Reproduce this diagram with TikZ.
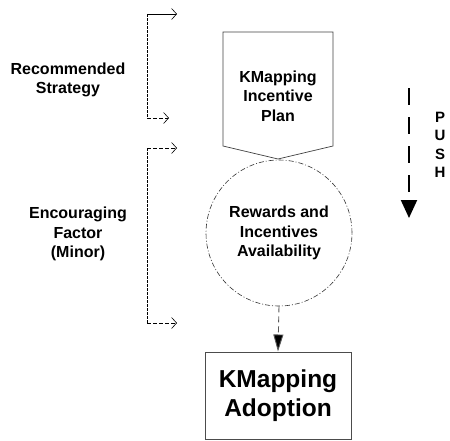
\documentclass[tikz,border=0pt]{standalone}
\usepackage{fontspec}
\setmainfont{Liberation Sans}
\usetikzlibrary{arrows.meta,positioning,calc}
\tikzset{
  lbl/.style={font=\bfseries\fontsize{16}{19.5}\selectfont, align=center},
  rewardcircle/.style={circle, draw=black!80, line width=0.6pt,
    dash pattern=on 5pt off 2pt on 1pt off 2pt, minimum size=146pt,
    inner sep=0pt, lbl},
  adoptbox/.style={draw=black!70, line width=1pt, minimum width=146pt,
    minimum height=87pt, inner sep=0pt, align=center,
    font=\bfseries\fontsize{24.5}{29}\selectfont},
  brack/.style={line width=0.6pt, dash pattern=on 3pt off 1pt},
  brackarr/.style={line width=0.6pt, dash pattern=on 4pt off 2pt,
    -{Straight Barb[length=5pt,width=11pt]}},
  pusharr/.style={line width=2pt, dash pattern=on 17pt off 12pt,
    -{Triangle[length=18pt,width=16pt]}},
}
\begin{document}
\begin{tikzpicture}[x=1pt,y=-1pt]
  \useasboundingbox (0,0) rectangle (450,440);
  % pentagon (off-page connector)
  \coordinate (pnw) at (223,32);
  \coordinate (pne) at (333,32);
  \coordinate (pse) at (333,146);
  \coordinate (ptip) at (278,159);
  \coordinate (psw) at (223,146);
  \draw[draw=black!75, line width=0.7pt] (pnw) -- (pne) -- (pse) -- (ptip) -- (psw) -- cycle;
  \node[lbl] (plan) at (278,96) {KMapping\\Incentive\\Plan};
  % circle and box
  \node[rewardcircle] (reward) at (279,233) {Rewards and\\Incentives\\Availability};
  \node[adoptbox] (adopt) at (278,395.5) {KMapping\\Adoption};
  \draw[line width=0.9pt, draw=black!65, dash pattern=on 6pt off 4pt,
    -{Triangle[length=17pt,width=10pt,fill=black]}] (reward.south) -- (adopt.north);
  % side labels
  \node[lbl] (strategy) at (68,80) {Recommended\\Strategy};
  \node[lbl] (factor) at (78,234) {Encouraging\\Factor\\(Minor)};
  % brackets
  \coordinate (rsTop) at (147,14);
  \coordinate (rsTopEnd) at (177,14);
  \coordinate (rsBot) at (147,118);
  \coordinate (rsBotEnd) at (169,118);
  \draw[brack] (rsTop) -- (rsBot);
  \draw[line width=0.6pt, -{Straight Barb[length=5pt,width=11pt]}] (rsTop) -- (rsTopEnd);
  \draw[brackarr] (rsBot) -- (rsBotEnd);
  \coordinate (efTop) at (147,148);
  \coordinate (efTopEnd) at (177,148);
  \coordinate (efBot) at (147,323);
  \coordinate (efBotEnd) at (177,323);
  \draw[brack] (efTop) -- (efBot);
  \draw[brackarr] (efTop) -- (efTopEnd);
  \draw[brackarr] (efBot) -- (efBotEnd);
  % push arrow
  \coordinate (pushTop) at (409,88);
  \coordinate (pushEnd) at (409,218);
  \draw[pusharr] (pushTop) -- (pushEnd);
  \node[font=\bfseries\fontsize{15}{18.5}\selectfont, align=center] (push) at (440,145) {P\\U\\S\\H};
\end{tikzpicture}
\end{document}
